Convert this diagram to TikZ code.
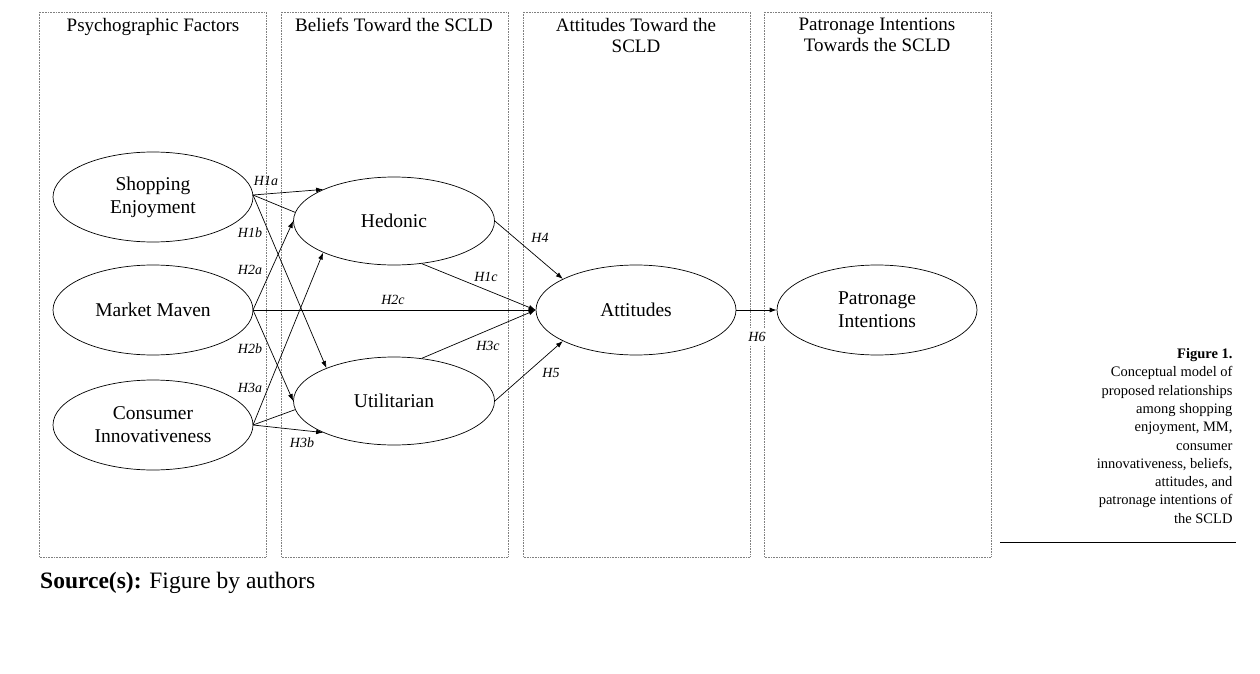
\documentclass[tikz,border=0pt]{standalone}
\usepackage{fontspec}
\setmainfont{Liberation Serif}
\usetikzlibrary{shapes.geometric,arrows.meta}
\begin{document}
\begin{tikzpicture}[x=1pt,y=-1pt,
 panel/.style={draw=gray,densely dotted,line width=0.6pt},
 ell/.style={draw,ellipse,line width=0.7pt,minimum width=200pt,minimum height=90pt,align=center,font=\fontsize{19.5}{23}\selectfont},
 hd/.style={align=center,font=\fontsize{19}{21}\selectfont,anchor=north,inner sep=1pt},
 lab/.style={font=\fontsize{14}{16}\selectfont\itshape,inner sep=1pt},
 arr/.style={-{Latex[length=7pt,width=5pt]},line width=0.7pt},
 ln/.style={line width=0.7pt}]
\useasboundingbox (0,0) rectangle (1260,674);
\foreach \a/\b in {39/266,281/508,523/750,764/991}{\draw[panel] (\a,12) rectangle (\b,557);}
\node[hd] (h1) at (153,17) {Psychographic Factors};
\node[hd] (h2) at (394,17) {Beliefs Toward the SCLD};
\node[hd] (h3) at (636,17) {Attitudes Toward the\\SCLD};
\node[hd] (h4) at (877,17) {Patronage Intentions\\Towards the SCLD};
\node[ell] (se) at (153,197) {Shopping\\Enjoyment};
\node[ell] (mm) at (153,310) {Market Maven};
\node[ell] (ci) at (153,425) {Consumer\\Innovativeness};
\node[ell,minimum width=201pt,minimum height=88pt] (he) at (394,221) {Hedonic};
\node[ell,minimum width=201pt,minimum height=88pt] (ut) at (394,401) {Utilitarian};
\node[ell] (at) at (636,310) {Attitudes};
\node[ell] (pi) at (877,310) {Patronage\\Intentions};
\coordinate (se0) at (253,195);
\coordinate (mm0) at (253,310);
\coordinate (ci0) at (253,425);
\draw[arr] (se0) -- (he.156);
\draw[ln] (se0) -- (he.175);
\draw[arr] (se0) -- (ut.154);
\draw[arr] (mm0) -- (he.180);
\draw[arr] (mm0) -- (at.west);
\draw[arr] (mm0) -- (ut.180);
\draw[arr] (ci0) -- (he.204);
\draw[ln] (ci0) -- (ut.185);
\draw[arr] (ci0) -- (ut.204);
\draw[arr] (he.east) -- (at.157);
\draw[arr] (he.303) -- (at.west);
\draw[arr] (ut.57) -- (at.west);
\draw[arr] (ut.east) -- (at.203);
\draw[arr] (at) -- (pi);
\node[lab] (l1a) at (266,181) {H1a};
\node[lab] (l1b) at (250,233) {H1b};
\node[lab] (l2a) at (250,270) {H2a};
\node[lab] (l2b) at (250,349) {H2b};
\node[lab] (l3a) at (250,388) {H3a};
\node[lab] (l3b) at (302,443) {H3b};
\node[lab] (l2c) at (393,300) {H2c};
\node[lab] (l1c) at (486,277) {H1c};
\node[lab] (l3c) at (488,346) {H3c};
\node[lab] (l4) at (540,238) {H4};
\node[lab] (l5) at (551,373) {H5};
\node[lab,fill=white,inner ysep=4pt] (l6) at (757,337) {H6};
\node[align=right,anchor=north east,font=\fontsize{14.5}{18.3}\selectfont] (cap) at (1236,345)
 {\textbf{Figure 1.}\\Conceptual model of\\proposed relationships\\among shopping\\enjoyment, MM,\\consumer\\innovativeness, beliefs,\\attitudes, and\\patronage intentions of\\the SCLD};
\draw[line width=1pt] (1000,542) -- (1236,542);
\node[anchor=west,font=\fontsize{23.5}{26}\selectfont,inner sep=1pt] (src) at (39,583) {\textbf{Source(s):} Figure by authors};
\end{tikzpicture}
\end{document}
